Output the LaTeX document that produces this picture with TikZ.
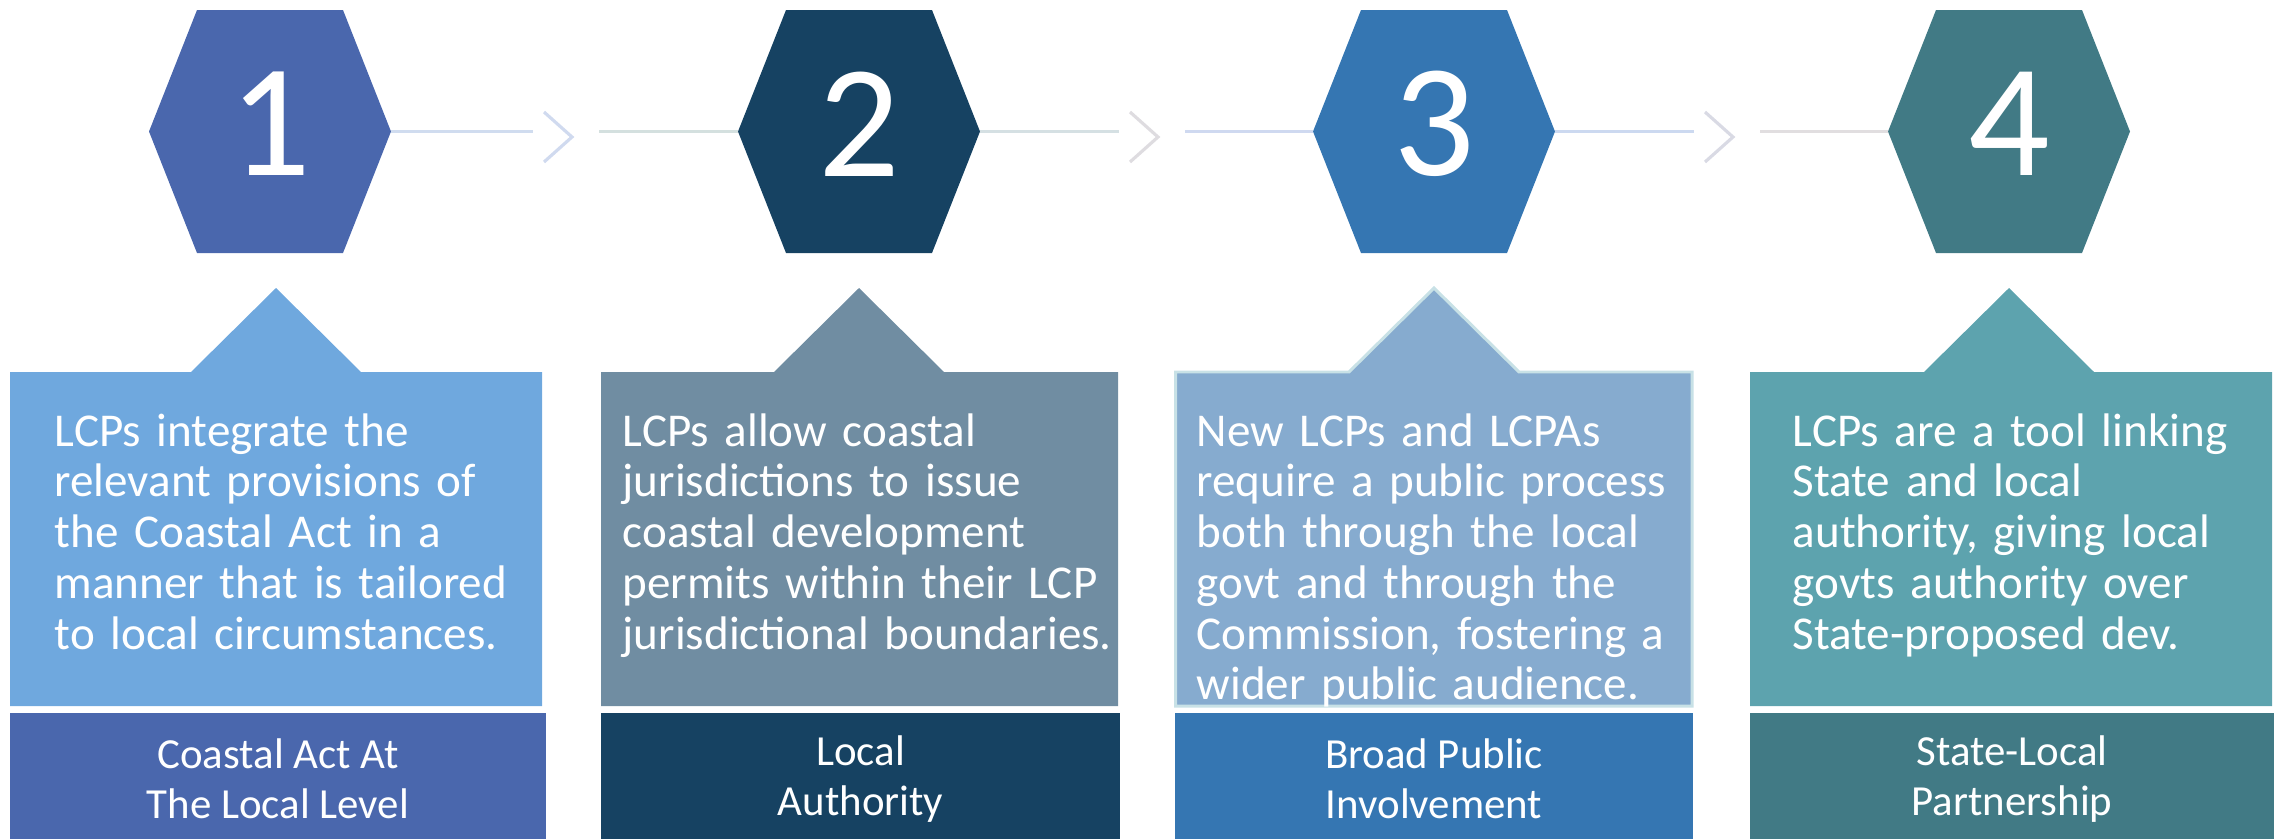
\documentclass[tikz,border=0pt]{standalone}
\usepackage{fontspec}
\setmainfont{Carlito}

\definecolor{hexA}{HTML}{4A67AD}
\definecolor{hexB}{HTML}{164262}
\definecolor{hexC}{HTML}{3576B2}
\definecolor{hexD}{HTML}{417A85}
\definecolor{boxA}{HTML}{6FA8DE}
\definecolor{boxB}{HTML}{708DA2}
\definecolor{boxC}{HTML}{86ABCF}
\definecolor{boxD}{HTML}{5DA3AE}
\definecolor{boxCline}{HTML}{C8E1E6}
\definecolor{lnA}{HTML}{D0DCEF}
\definecolor{lnB}{HTML}{D4E0DF}
\definecolor{lnC}{HTML}{D5E0E3}
\definecolor{lnD}{HTML}{CFD9F0}
\definecolor{lnE}{HTML}{CCD9F0}
\definecolor{lnF}{HTML}{E1DEE0}
\definecolor{chA}{HTML}{D0DAEF}
\definecolor{chB}{HTML}{DEDCE0}
\definecolor{chC}{HTML}{D9DAE4}

\tikzset{
    link/.style={line width=0.7pt},
    chevron/.style={line width=0.9pt},
    notetext/.style={text=white, anchor=base west, inner sep=0pt, text width=5.1cm, align=left,
        font=\fontsize{13.4pt}{14.45pt}\selectfont},
    tagtext/.style={text=white, align=center, inner sep=0pt, font=\fontsize{12.2pt}{14.1pt}\selectfont},
    numtext/.style={text=white, inner sep=0pt, font=\fontsize{45.8pt}{50pt}\selectfont}
}

\begin{document}
\begin{tikzpicture}
        \useasboundingbox (0,0) rectangle (22.74,8.39);

        \foreach \i/\cx/\col in {1/2.70/hexA, 2/8.59/hexB, 3/14.34/hexC, 4/20.09/hexD} {
            \fill[\col] (\cx-0.73,8.29) -- (\cx+0.73,8.29) -- (\cx+1.21,7.075)
                -- (\cx+0.73,5.86) -- (\cx-0.73,5.86) -- (\cx-1.21,7.075) -- cycle;
            \coordinate (hex\i-w) at (\cx-1.21,7.075);
            \coordinate (hex\i-e) at (\cx+1.21,7.075);
            \node[numtext] (num\i) at (\cx,7.15) {\i};
        }

        \foreach \i/\j/\x/\ca/\cb/\cc in {1/2/5.43/lnA/chA/lnB, 2/3/11.29/lnC/chB/lnD, 3/4/17.04/lnE/chC/lnF} {
            \coordinate (gap\i-a) at (\x-0.10,7.075);
            \coordinate (gap\i-b) at (\x+0.56,7.075);
            \draw[link,\ca] (hex\i-e) -- (gap\i-a);
            \draw[chevron,\cb] (\x+0.01,7.27) -- (\x+0.29,7.02) -- (\x+0.01,6.77);
            \draw[link,\cc] (gap\i-b) -- (hex\j-w);
        }

        \foreach \l/\r/\ax/\col in {0.10/5.42/2.76/boxA, 6.01/11.18/8.59/boxB, 11.755/16.92/14.34/boxC, 17.50/22.72/20.09/boxD} {
            \fill[\col] (\l,1.33) -- (\l,4.67) -- (\ax-0.85,4.67) -- (\ax,5.51)
                -- (\ax+0.85,4.67) -- (\r,4.67) -- (\r,1.33) -- cycle;
        }
        \draw[boxCline,line width=0.85pt] (11.755,1.33) -- (11.755,4.67) -- (13.49,4.67) -- (14.34,5.51)
            -- (15.19,4.67) -- (16.92,4.67) -- (16.92,1.33) -- cycle;

        \node[notetext] (note1) at (0.54,3.93) {LCPs integrate the\\relevant provisions of\\the Coastal Act in a\\manner that is tailored\\to local circumstances.};
        \node[notetext] (note2) at (6.22,3.93) {LCPs allow coastal\\jurisdictions to issue\\coastal development\\permits within their LCP\\jurisdictional boundaries.};
        \node[notetext] (note3) at (11.96,3.93) {New LCPs and LCPAs\\require a public process\\both through the local\\govt and through the\\Commission, fostering a\\wider public audience.};
        \node[notetext] (note4) at (17.92,3.93) {LCPs are a tool linking\\State and local\\authority, giving local\\govts authority over\\State-proposed dev.};

        \foreach \i/\l/\r/\col/\txt in {1/0.10/5.46/hexA/{Coastal Act At\\The Local Level}, 2/6.01/11.20/hexB/{Local\\Authority},
                3/11.75/16.93/hexC/{Broad Public\\Involvement}, 4/17.50/22.74/hexD/{State-Local\\Partnership}} {
            \fill[\col] (\l,0) rectangle (\r,1.26);
            \node[tagtext] (tag\i) at ({(\l+\r)/2},0.60) {\txt};
        }
    \end{tikzpicture}
\end{document}
